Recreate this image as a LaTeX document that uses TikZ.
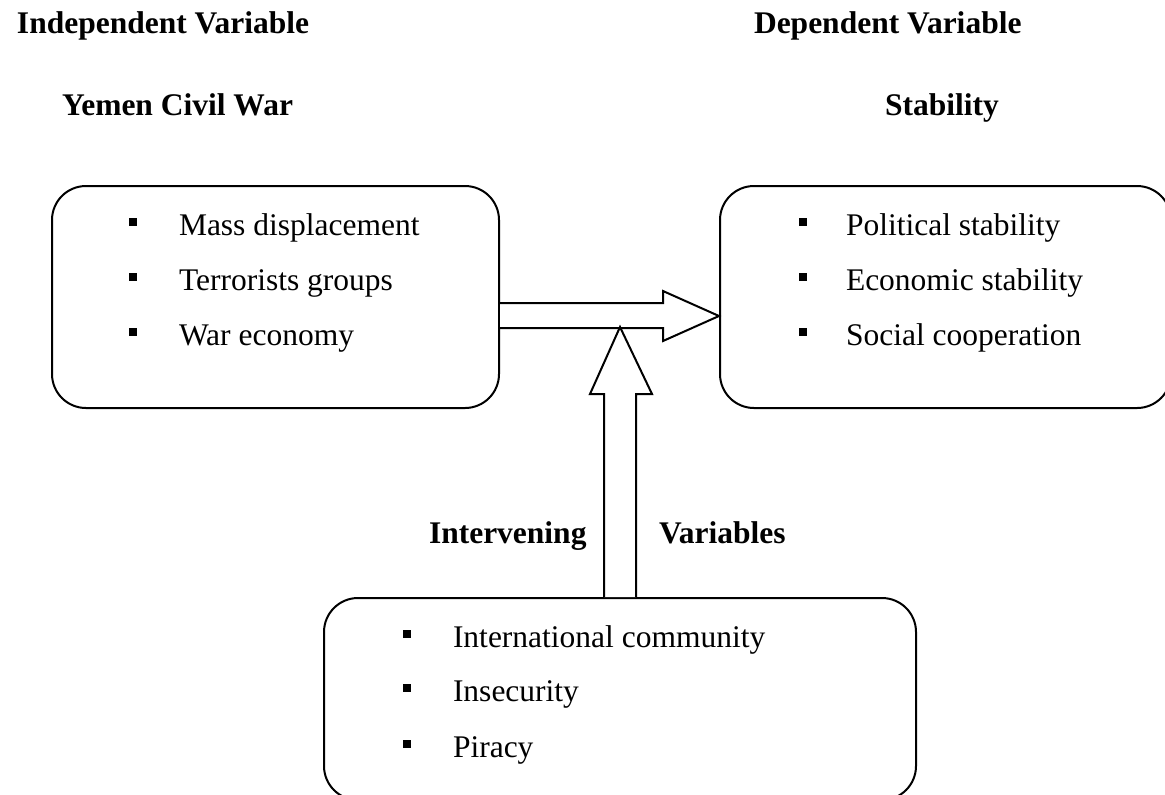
\documentclass[tikz,border=0pt]{standalone}
\usepackage{fontspec}
\setmainfont{Liberation Serif}
\begin{document}
\begin{tikzpicture}[x=0.5pt,y=-0.5pt, line width=1pt,
  box/.style={draw, rounded corners=17pt, anchor=north west, inner sep=0pt},
  txt/.style={anchor=base west, inner sep=0pt, font=\fontsize{15.75}{18}\selectfont},
  head/.style={anchor=base west, inner sep=0pt, font=\fontsize{15.75}{18}\selectfont\bfseries},
  bul/.style={fill, draw=none, inner sep=0pt, minimum size=4pt},
  blockarrow/.style={draw, fill=white, line join=miter}]
\useasboundingbox (0,0) rectangle (1165,794);

% boxes
\node[box, minimum width=223.5pt, minimum height=111pt] (L) at (51,185) {};
\node[box, minimum width=225.5pt, minimum height=111pt] (R) at (719,185) {};
\node[box, minimum width=296pt, minimum height=101pt] (B) at (323,597) {};

% headings
\node[head] (h1) at (16,33) {Independent Variable};
\node[head] (h2) at (753,33) {Dependent Variable};
\node[head] (h3) at (61,115) {Yemen Civil War};
\node[head] (h4) at (884,115) {Stability};
\node[head] (h5) at (428,543) {Intervening};
\node[head] (h6) at (658,543) {Variables};

% left list
\node[bul] (lb1) at (133,222) {};
\node[bul] (lb2) at (133,277) {};
\node[bul] (lb3) at (133,332) {};
\node[txt] (lt1) at (178,235) {Mass displacement};
\node[txt] (lt2) at (178,290) {Terrorists groups};
\node[txt] (lt3) at (178,345) {War economy};

% right list
\node[bul] (rb1) at (803,222) {};
\node[bul] (rb2) at (803,277) {};
\node[bul] (rb3) at (803,332) {};
\node[txt] (rt1) at (845,235) {Political stability};
\node[txt] (rt2) at (845,290) {Economic stability};
\node[txt] (rt3) at (845,345) {Social cooperation};

% bottom list
\node[bul] (bb1) at (407,634) {};
\node[bul] (bb2) at (407,688) {};
\node[bul] (bb3) at (407,744) {};
\node[txt] (bt1) at (452,647) {International community};
\node[txt] (bt2) at (452,701) {Insecurity};
\node[txt] (bt3) at (452,757) {Piracy};

% block arrows
\draw[blockarrow] (L.east |- 0,303) -- (663,303) -- (663,291) -- (R.west |- 0,316) -- (663,341) -- (663,328) -- (L.east |- 0,328);
\draw[blockarrow] (604,0 |- B.north) -- (604,394) -- (590,394) -- (620,327) -- (652,394) -- (636,394) -- (636,0 |- B.north);
\end{tikzpicture}
\end{document}
